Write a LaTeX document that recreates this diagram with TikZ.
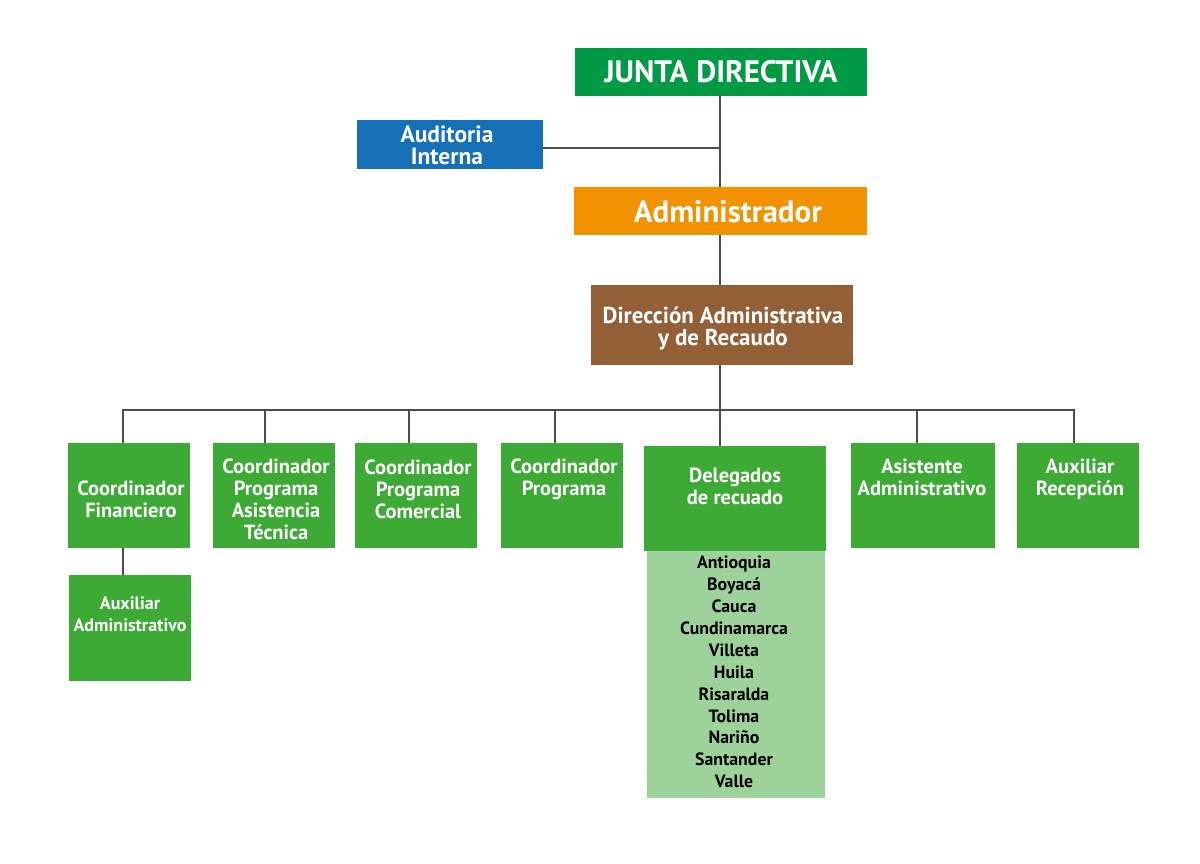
\documentclass[tikz,border=0pt]{standalone}
\usepackage{fontspec}
\setmainfont{PT Sans}
\definecolor{jgreen}{RGB}{0,154,68}
\definecolor{ablue}{RGB}{21,112,184}
\definecolor{aorange}{RGB}{243,146,0}
\definecolor{dbrown}{RGB}{147,95,55}
\definecolor{bgreen}{RGB}{61,170,53}
\definecolor{lgreen}{RGB}{157,211,154}
\definecolor{lgray}{RGB}{77,77,77}
\begin{document}
\begin{tikzpicture}[x=1pt,y=-1pt,
  box/.style={draw=none,inner sep=0pt,outer sep=0pt,rectangle},
  gbox/.style={box,fill=bgreen,minimum width=122pt,minimum height=105pt},
  txt/.style={text=white,align=center,inner sep=0pt,font=\bfseries\fontsize{20.5}{22}\selectfont},
  link/.style={draw=lgray,line width=2.2pt}]
\useasboundingbox (0,0) rectangle (1200,864);
% boxes
\node[box,fill=jgreen,minimum width=292pt,minimum height=48pt] (junta) at (721,72) {};
\node[box,fill=ablue,minimum width=186pt,minimum height=49pt] (audit) at (450,144.5) {};
\node[box,fill=aorange,minimum width=293pt,minimum height=48pt] (admin) at (720.5,211) {};
\node[box,fill=dbrown,minimum width=262pt,minimum height=80pt] (dir) at (722,325) {};
\node[gbox] (cf) at (129,495.5) {};
\node[gbox] (cpat) at (274,495.5) {};
\node[gbox] (cpc) at (416,495.5) {};
\node[gbox] (cp) at (562,495.5) {};
\node[box,fill=lgreen,minimum width=178pt,minimum height=247pt] (list) at (736,674.5) {};
\node[box,fill=bgreen,minimum width=182pt,minimum height=105pt] (del) at (735,498.5) {};
\node[box,fill=bgreen,minimum width=144pt,minimum height=105pt] (asis) at (923,495.5) {};
\node[gbox] (auxr) at (1078,495.5) {};
\node[gbox,minimum height=106pt] (auxa) at (130,628) {};
% connectors
\coordinate (jx) at (720,148);
\coordinate (bus) at (720,410);
\draw[link] (junta.south -| jx) -- (admin.north -| jx);
\draw[link] (audit.east) ++(0,3.5) -- (jx);
\draw[link] (admin.south -| jx) -- (dir.north -| jx);
\draw[link] (dir.south -| jx) -- (del.north -| jx);
\draw[link] (cf.north -| 123,0) |- (bus) -| (auxr.north -| 1074,0);
\draw[link] (cpat.north -| 265,0) -- (bus -| 265,0);
\draw[link] (cpc.north -| 409,0) -- (bus -| 409,0);
\draw[link] (cp.north -| 555,0) -- (bus -| 555,0);
\draw[link] (asis.north -| 917,0) -- (bus -| 917,0);
\draw[link] (cf.south -| 123,0) -- (auxa.north -| 123,0);
% texts
\node[txt,font=\bfseries\fontsize{31}{32}\selectfont] (junta-t) at (721,72) {JUNTA DIRECTIVA};
\node[txt,font=\bfseries\fontsize{23.5}{22}\selectfont] (audit-t) at (447,145.5) {Auditoria\\Interna};
\node[txt,font=\bfseries\fontsize{31}{32}\selectfont] (admin-t) at (728,212) {Administrador};
\node[txt,font=\bfseries\fontsize{23}{22}\selectfont] (dir-t) at (723,328.5) {Dirección Administrativa\\y de Recaudo};
\node[txt] (cf-t) at (131,499) {Coordinador\\Financiero};
\node[txt] (cpat-t) at (276,499) {Coordinador\\Programa\\Asistencia\\Técnica};
\node[txt] (cpc-t) at (418,489) {Coordinador\\Programa\\Comercial};
\node[txt] (cp-t) at (564,479) {Coordinador\\Programa};
\node[txt] (del-t) at (735,486) {Delegados\\de recuado};
\node[txt] (asis-t) at (922,477.5) {Asistente\\Administrativo};
\node[txt] (auxr-t) at (1080,479) {Auxiliar\\Recepción};
\node[txt,font=\bfseries\fontsize{18}{22}\selectfont] (auxa-t) at (130,614.5) {Auxiliar\\Administrativo};
\node[txt,text=black,font=\bfseries\fontsize{17.8}{21.9}\selectfont] (list-t) at (734,672) {Antioquia\\Boyacá\\Cauca\\Cundinamarca\\Villeta\\Huila\\Risaralda\\Tolima\\Nariño\\Santander\\Valle};
\end{tikzpicture}
\end{document}
